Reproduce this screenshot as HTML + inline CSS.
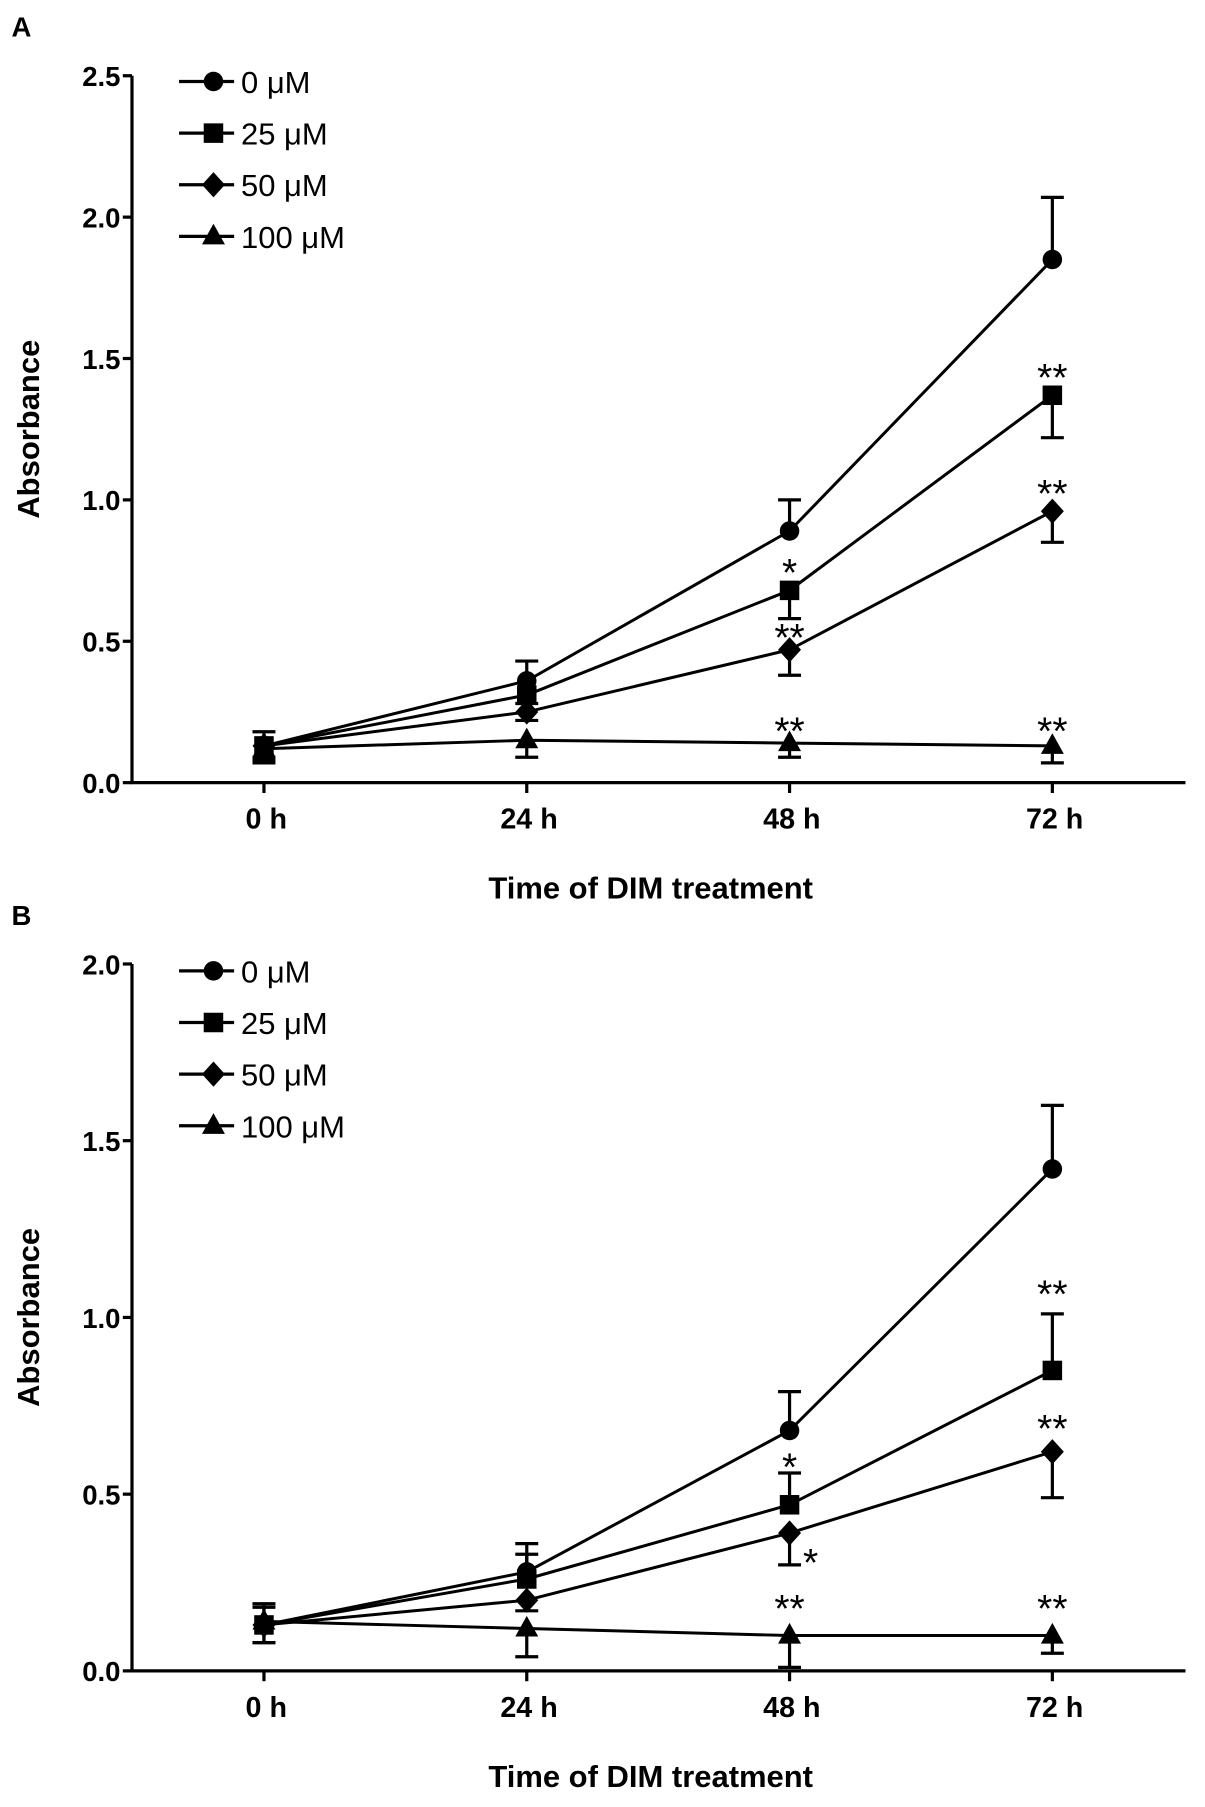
<!DOCTYPE html>
<html><head><meta charset="utf-8"><style>
html,body{margin:0;padding:0;background:#fff;}
svg{display:block;}
text{font-family:"Liberation Sans",Arial,sans-serif;fill:#000;}
</style></head><body>
<svg id="fig" width="1205" height="1807" viewBox="0 0 1050 1574.6" xmlns="http://www.w3.org/2000/svg"></svg>
<script>
const categories = ["0 h","24 h","48 h","72 h"];
const seriesNames = ["0 μM","25 μM","50 μM","100 μM"];
const markers = ["circle","square","diamond","triangle"];
// Panel A
const aValues0 = [0.13,0.36,0.89,1.85];
const aValues25 = [0.13,0.31,0.68,1.37];
const aValues50 = [0.13,0.25,0.47,0.96];
const aValues100 = [0.12,0.15,0.14,0.13];
const aErrUp0 = [0.05,0.07,0.11,0.22];
const aErrDown25 = [0.05,0.03,0.10,0.15];
const aErrDown50 = [0.04,0.03,0.09,0.11];
const aErrDown100 = [0.05,0.06,0.05,0.06];
const aTicks = ["0.0","0.5","1.0","1.5","2.0","2.5"];
const aStars = [[2,0.76,"*"],[2,0.53,"**"],[2,0.2,"**"],[3,1.45,"**"],[3,1.04,"**"],[3,0.2,"**"]];
// Panel B
const bValues0 = [0.13,0.28,0.68,1.42];
const bValues25 = [0.13,0.26,0.47,0.85];
const bValues50 = [0.13,0.20,0.39,0.62];
const bValues100 = [0.14,0.12,0.10,0.10];
const bErrUp0 = [0.06,0.08,0.11,0.18];
const bErrUp25 = [0.05,0.07,0.09,0.16];
const bErrDown50 = [0.05,0.03,0.09,0.13];
const bErrDown100 = [0.06,0.08,0.09,0.05];
const bTicks = ["0.0","0.5","1.0","1.5","2.0"];
const bStars = [[2,0.59,"*"],[2.08,0.32,"*"],[2,0.19,"**"],[3,1.08,"**"],[3,0.70,"**"],[3,0.19,"**"]];

const NS="http://www.w3.org/2000/svg";
const svg=document.getElementById('fig');
function el(tag,attrs,parent){const e=document.createElementNS(NS,tag);for(const k in attrs)e.setAttribute(k,attrs[k]);(parent||svg).appendChild(e);return e;}
function txt(s,attrs,parent){const t=el('text',attrs,parent);t.textContent=s;return t;}
function marker(type,x,y,g){
  if(type==="circle") return el('circle',{cx:x,cy:y,r:8.5,fill:'#000'},g);
  if(type==="square") return el('rect',{x:x-8.5,y:y-8.5,width:17,height:17,fill:'#000'},g);
  if(type==="diamond") return el('polygon',{points:`${x},${y-11} ${x+10},${y} ${x},${y+11} ${x-10},${y}`,fill:'#000'},g);
  return el('polygon',{points:`${x},${y-11} ${x+10},${y+7} ${x-10},${y+7}`,fill:'#000'},g);
}
const xPos=[230,459,688,917];
function panel(name,letter,top,bottom,maxV,ticks,vals,errs,stars,legendY,titleY){
  const g=el('g',{});
  
  
  const xL=115,xR=1033;
  const y=v=>bottom-(v/maxV)*(bottom-top);
  const x=i=>xPos[0]+(xPos[1]-xPos[0])*i;
  const lab=txt(letter,{x:10,y:top-34,'font-size':24,'font-weight':'bold'},g);
  
  
  const ya=el('line',{x1:xL,y1:top,x2:xL,y2:bottom+1,stroke:'#000','stroke-width':2.8},g);
  
  
  const xa=el('line',{x1:xL-1,y1:bottom,x2:xR,y2:bottom,stroke:'#000','stroke-width':2.8},g);
  
  
  ticks.forEach((t,i)=>{const v=parseFloat(t);const yy=y(v);
    el('line',{x1:xL-8,y1:yy,x2:xL,y2:yy,stroke:'#000','stroke-width':2.8},g);
    const tl=txt(t,{x:xL-10,y:yy+9,'font-size':24,'font-weight':'bold','text-anchor':'end'},g);
    
    
  });
  categories.forEach((c,i)=>{
    el('line',{x1:x(i),y1:bottom,x2:x(i),y2:bottom+9,stroke:'#000','stroke-width':2.8},g);
    const tl=txt(c,{x:x(i)+2,y:bottom+40,'font-size':25,'font-weight':'bold','text-anchor':'middle'},g);
    
    
  });
  const xt=txt("Time of DIM treatment",{x:567,y:titleY,'font-size':27,'font-weight':'bold','text-anchor':'middle'},g);
  
  
  const cy=(top+bottom)/2;
  const yt=txt("Absorbance",{x:0,y:0,'font-size':27,'font-weight':'bold','text-anchor':'middle',transform:`translate(34,${cy}) rotate(-90)`},g);
  
  
  vals.forEach((vs,s)=>{
    const sg=el('g',{},g);
    
    
    const [dir,ev]=errs[s];
    vs.forEach((v,i)=>{const e2=v+dir*ev[i];
      el('line',{x1:x(i),y1:y(v),x2:x(i),y2:y(e2),stroke:'#000','stroke-width':2.8},sg);
      el('line',{x1:x(i)-10,y1:y(e2),x2:x(i)+10,y2:y(e2),stroke:'#000','stroke-width':2.8},sg);
    });
    el('polyline',{points:vs.map((v,i)=>x(i)+','+y(v)).join(' '),fill:'none',stroke:'#000','stroke-width':2.6},sg);
    vs.forEach((v,i)=>{const m=marker(markers[s],x(i),y(v),sg);
      
      });
  });
  stars.forEach(st=>{const t=txt(st[2],{x:x(st[0]),y:y(st[1])+16,'font-size':34,'text-anchor':'middle'},g);
    
    });
  seriesNames.forEach((n,i)=>{const ly=legendY+45*i;
    const lg=el('g',{},g);
    
    
    el('line',{x1:156,y1:ly,x2:204,y2:ly,stroke:'#000','stroke-width':2.8},lg);
    marker(markers[i],186,ly,lg);
    txt(n,{x:210,y:ly+10,'font-size':27},lg);
  });
}
panel('a','A',66,682,2.5,aTicks,[aValues0,aValues25,aValues50,aValues100],
  [[1,aErrUp0],[-1,aErrDown25],[-1,aErrDown50],[-1,aErrDown100]],aStars,71,783);
panel('b','B',840,1456,2.0,bTicks,[bValues0,bValues25,bValues50,bValues100],
  [[1,bErrUp0],[1,bErrUp25],[-1,bErrDown50],[-1,bErrDown100]],bStars,846,1557);
</script>
</body></html>
